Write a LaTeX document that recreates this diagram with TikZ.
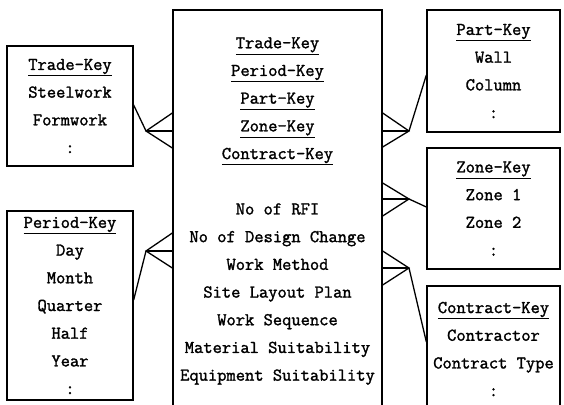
\documentclass[tikz,border=0pt]{standalone}
\usepackage{fontspec}
\newfontfamily\keyfont[FakeBold=1.6]{Latin Modern Mono}
\begin{document}
\begin{tikzpicture}[x=1pt, y=-1pt, line width=1.3pt]
    % Styles
    \tikzstyle{dimbox}=[rectangle, draw, align=center, inner sep=0pt, font=\keyfont\fontsize{18}{27.7}\selectfont]
    \tikzstyle{factbox}=[dimbox, minimum width=209pt, minimum height=402pt]
    \tikzstyle{link}=[line width=1.3pt]
    \useasboundingbox (0,0) rectangle (564,404);
    \clip (0,0) rectangle (564,404);
    % Fact table
    \node[factbox] (fact) at (277.5,211) {\underline{Trade-Key}\\ \underline{Period-Key}\\ \underline{Part-Key}\\ \underline{Zone-Key}\\ \underline{Contract-Key}\\[27.7pt] No of RFI\\ No of Design Change\\ Work Method\\ Site Layout Plan\\ Work Sequence\\ Material Suitability\\ Equipment Suitability};
    % Dimension tables, left
    \node[dimbox, minimum width=126pt, minimum height=120pt] (trade) at (70,106) {\underline{Trade-Key}\\ Steelwork\\ Formwork\\ :};
    \node[dimbox, minimum width=126pt, minimum height=189pt] (period) at (70,305.5) {\underline{Period-Key}\\ Day\\ Month\\ Quarter\\ Half\\ Year\\ :};
    % Dimension tables, right
    \node[dimbox, minimum width=133pt, minimum height=122pt] (part) at (493.5,71) {\underline{Part-Key}\\ Wall\\ Column\\ :};
    \node[dimbox, minimum width=133pt, minimum height=121pt] (zone) at (493.5,208.5) {\underline{Zone-Key}\\ Zone 1\\ Zone 2\\ :};
    \node[dimbox, minimum width=133pt, minimum height=126pt] (contract) at (493.5,349) {\underline{Contract-Key}\\ Contractor\\ Contract Type\\ :};
    % Crow's feet on the fact table
    \coordinate (trade-foot) at (146,131);
    \draw[link] (trade.east |- 0,105) -- (trade-foot);
    \draw[link] (fact.west |- 0,113) -- (trade-foot) -- (fact.west |- 0,148);
    \draw[link] (trade-foot) -- (fact.west |- 0,131);

    \coordinate (period-foot) at (146,251);
    \draw[link] (period.east |- 0,300) -- (period-foot);
    \draw[link] (fact.west |- 0,233) -- (period-foot) -- (fact.west |- 0,268);
    \draw[link] (period-foot) -- (fact.west |- 0,251);

    \coordinate (part-foot) at (409,131);
    \draw[link] (part.west |- 0,75) -- (part-foot);
    \draw[link] (fact.east |- 0,113) -- (part-foot) -- (fact.east |- 0,147);
    \draw[link] (part-foot) -- (fact.east |- 0,131);

    \coordinate (zone-foot) at (409,199);
    \draw[link] (zone.west |- 0,207) -- (zone-foot);
    \draw[link] (fact.east |- 0,183) -- (zone-foot) -- (fact.east |- 0,216);
    \draw[link] (zone-foot) -- (fact.east |- 0,199);

    \coordinate (contract-foot) at (409,268);
    \draw[link] (contract.west |- 0,342) -- (contract-foot);
    \draw[link] (fact.east |- 0,251) -- (contract-foot) -- (fact.east |- 0,285);
    \draw[link] (contract-foot) -- (fact.east |- 0,268);
\end{tikzpicture}
\end{document}
